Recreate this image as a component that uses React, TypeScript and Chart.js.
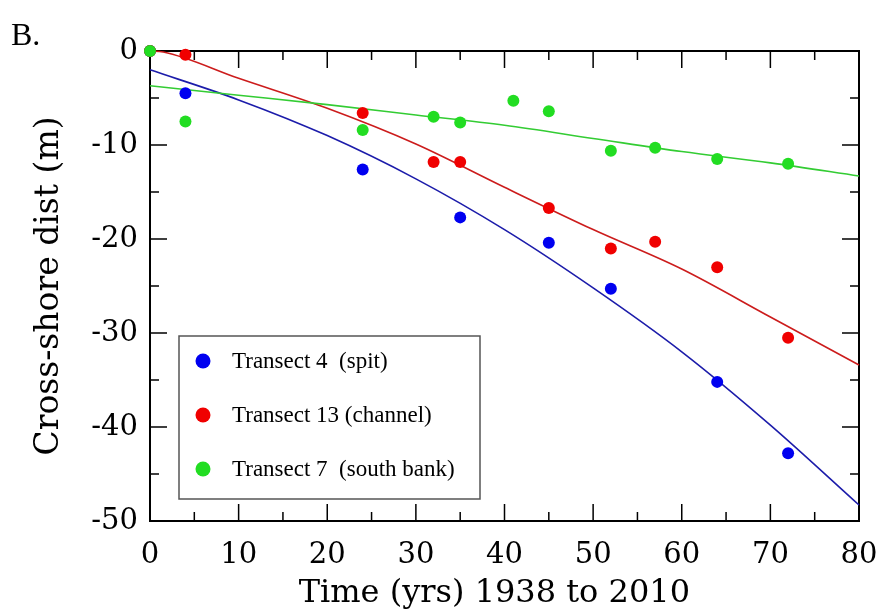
import React, { useEffect, useRef } from "react";
import { Chart, registerables } from "chart.js";

Chart.register(...registerables);

// ---- data ----
const panelLabel = "B.";
const xTitle = "Time (yrs) 1938 to 2010  ";
const yTitle = "Cross-shore dist (m)";
const seriesLabels = ["Transect 4  (spit)", "Transect 13 (channel)", "Transect 7  (south bank)"];

const transect4X = [0, 4, 24, 35, 45, 52, 64, 72];
const transect4Y = [0, -4.5, -12.6, -17.7, -20.4, -25.3, -35.2, -42.8];
const transect13X = [0, 4, 24, 32, 35, 45, 52, 57, 64, 72];
const transect13Y = [0, -0.4, -6.6, -11.8, -11.8, -16.7, -21.0, -20.3, -23.0, -30.5];
const transect7X = [0, 4, 24, 32, 35, 41, 45, 52, 57, 64, 72];
const transect7Y = [0, -7.5, -8.4, -7.0, -7.6, -5.3, -6.4, -10.6, -10.3, -11.5, -12.0];

const fit4X = [0, 10, 20, 30, 40, 50, 60, 70, 80];
const fit4Y = [-2.0, -5.2, -9.0, -13.6, -19.0, -25.2, -32.0, -39.8, -48.3];
const fit13X = [0, 1.5, 10, 20, 30, 40, 50, 60, 70, 80];
const fit13Y = [0, -0.1, -2.9, -6.1, -9.9, -14.5, -19.0, -23.2, -28.3, -33.4];
const fit7X = [0, 10, 20, 30, 40, 50, 60, 70, 80];
const fit7Y = [-3.7, -4.7, -5.7, -6.8, -7.9, -9.3, -10.7, -11.9, -13.3];

const xMin = 0, xMax = 80, xStep = 10;
const yMin = -50, yMax = 0, yStep = 10;

// ---- styles ----
const pointColors = ["#0000f0", "#f00000", "#22dd22"];
const lineColors = ["#1c1caa", "#cc1c1c", "#33cc33"];

const zip = (xs: number[], ys: number[]) => xs.map((x, i) => ({ x, y: ys[i] }));

const framePlugin = {
  id: "frameTicks",
  beforeDatasetsDraw(chart: any) {
    const { ctx, chartArea: a, scales } = chart;
    const xs = scales.x, ys = scales.y;
    ctx.save();
    ctx.strokeStyle = "#000";
    ctx.lineWidth = 1.5;
    const major = 17, minor = 9;
    ctx.beginPath();
    xs.ticks.forEach((t: any, i: number) => {
      const px = xs.getPixelForValue(t.value);
      ctx.moveTo(px, a.bottom); ctx.lineTo(px, a.bottom - major);
      ctx.moveTo(px, a.top); ctx.lineTo(px, a.top + major);
      if (i < xs.ticks.length - 1) {
        const mx = (px + xs.getPixelForValue(xs.ticks[i + 1].value)) / 2;
        ctx.moveTo(mx, a.bottom); ctx.lineTo(mx, a.bottom - minor);
        ctx.moveTo(mx, a.top); ctx.lineTo(mx, a.top + minor);
      }
    });
    ys.ticks.forEach((t: any, i: number) => {
      const py = ys.getPixelForValue(t.value);
      ctx.moveTo(a.left, py); ctx.lineTo(a.left + major, py);
      ctx.moveTo(a.right, py); ctx.lineTo(a.right - major, py);
      if (i < ys.ticks.length - 1) {
        const my = (py + ys.getPixelForValue(ys.ticks[i + 1].value)) / 2;
        ctx.moveTo(a.left, my); ctx.lineTo(a.left + minor, my);
        ctx.moveTo(a.right, my); ctx.lineTo(a.right - minor, my);
      }
    });
    ctx.stroke();
    ctx.lineWidth = 2;
    ctx.strokeRect(a.left, a.top, a.right - a.left, a.bottom - a.top);
    ctx.restore();
  },
  afterDraw(chart: any) {
    const { ctx, chartArea: a } = chart;
    ctx.save();
    // panel label
    ctx.fillStyle = "#000";
    ctx.font = "32px 'Liberation Serif', serif";
    ctx.textAlign = "left";
    ctx.textBaseline = "alphabetic";
    ctx.fillText(panelLabel, 11, 45);
    // legend box
    const bx = a.left + 29, by = a.top + 285, bw = 301, bh = 163;
    ctx.fillStyle = "#fff";
    ctx.fillRect(bx, by, bw, bh);
    ctx.strokeStyle = "#555";
    ctx.lineWidth = 1.5;
    ctx.strokeRect(bx, by, bw, bh);
    ctx.font = "23px 'Liberation Serif', serif";
    seriesLabels.forEach((lab, i) => {
      const cy = by + 25 + i * 54;
      ctx.fillStyle = pointColors[i];
      ctx.beginPath();
      ctx.arc(bx + 24, cy, 7.5, 0, Math.PI * 2);
      ctx.fill();
      ctx.fillStyle = "#000";
      ctx.fillText(lab, bx + 53, cy + 7);
    });
    ctx.restore();
  },
};

export default function App() {
  const ref = useRef<HTMLCanvasElement | null>(null);
  useEffect(() => {
    if (!ref.current) return;
    const tickFont = { family: "'DejaVu Serif', serif", size: 29 };
    const pts = (i: number, xs: number[], ysv: number[], order: number) => ({
      label: seriesLabels[i],
      data: zip(xs, ysv),
      showLine: false,
      pointRadius: 6,
      pointHoverRadius: 6,
      pointBackgroundColor: pointColors[i],
      pointBorderWidth: 0,
      borderColor: pointColors[i],
      backgroundColor: pointColors[i],
      clip: false,
      order,
    });
    const fit = (i: number, xs: number[], ysv: number[], order: number) => ({
      label: seriesLabels[i] + " fit",
      data: zip(xs, ysv),
      showLine: true,
      pointRadius: 0,
      borderColor: lineColors[i],
      borderWidth: 1.6,
      cubicInterpolationMode: "monotone",
      fill: false,
      clip: false,
      order,
    });
    const chart = new Chart(ref.current, {
      type: "scatter",
      data: {
        datasets: [
          pts(0, transect4X, transect4Y, 2),
          pts(1, transect13X, transect13Y, 1),
          pts(2, transect7X, transect7Y, 0),
          fit(0, fit4X, fit4Y, 5),
          fit(1, fit13X, fit13Y, 4),
          fit(2, fit7X, fit7Y, 3),
        ] as any,
      },
      options: {
        animation: false,
        responsive: false,
        maintainAspectRatio: false,
        layout: { padding: { top: 51, right: 21, left: 0, bottom: 0 } },
        plugins: { legend: { display: false }, tooltip: { enabled: false } },
        scales: {
          x: {
            type: "linear",
            min: xMin,
            max: xMax,
            ticks: { stepSize: xStep, color: "#000", font: tickFont, padding: 2, maxRotation: 0 },
            grid: { display: false, drawTicks: true, tickLength: 15 },
            border: { display: false },
            title: {
              display: true,
              text: xTitle,
              color: "#000",
              font: { family: "'DejaVu Serif', serif", size: 32 },
              padding: { top: 0, bottom: 0 },
            },
            afterFit: (s: any) => { s.height = 92; },
          },
          y: {
            type: "linear",
            min: yMin,
            max: yMax,
            ticks: { stepSize: yStep, color: "#000", font: tickFont, padding: 12 },
            grid: { display: false, drawTicks: false },
            border: { display: false },
            title: {
              display: true,
              text: yTitle,
              color: "#000",
              font: { family: "'DejaVu Serif', serif", size: 33 },
              padding: { top: 30, bottom: 0 },
            },
            afterFit: (s: any) => { s.width = 150; },
          },
        },
      },
      plugins: [framePlugin],
    } as any);
    return () => chart.destroy();
  }, []);
  return (
    <div style={{ position: "fixed", left: 0, top: 0, width: 880, height: 613, background: "#fff" }}>
      <canvas ref={ref} width={880} height={613} style={{ display: "block" }} />
    </div>
  );
}
